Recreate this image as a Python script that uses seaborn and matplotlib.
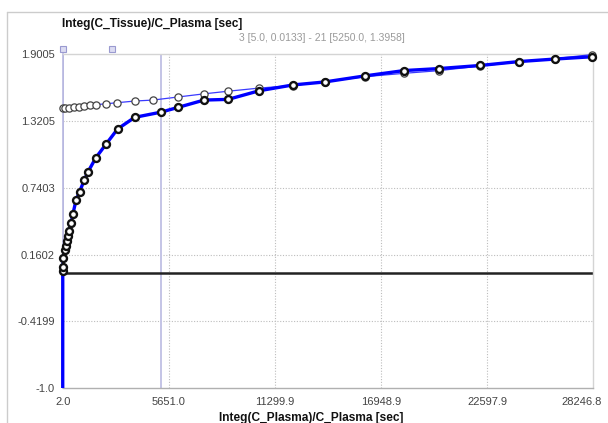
import matplotlib
matplotlib.use("Agg")
import matplotlib.pyplot as plt
from matplotlib.lines import Line2D
from matplotlib.transforms import (Bbox, TransformedBbox, blended_transform_factory,
                                   ScaledTranslation)
import pandas as pd
import seaborn as sns

# Measured samples: Integ(C_Plasma)/C_Plasma vs Integ(C_Tissue)/C_Plasma
measured_x = [2.0, 2.5, 3.0, 5.0, 12, 34, 125, 162, 216, 269, 339, 446, 542, 713, 900,
              1152, 1355, 1767, 2302, 2923, 3832, 5250.0, 6153, 7523, 8807, 10465,
              12252, 13942, 16103, 18178, 20008, 22217, 24287, 26213, 28200]
measured_y = [-3.5, -2.2, -1.3, 0.0133, 0.055, 0.127, 0.199, 0.234, 0.278, 0.321, 0.364,
              0.431, 0.509, 0.633, 0.705, 0.807, 0.879, 1.000, 1.116, 1.249, 1.350, 1.3958,
              1.437, 1.500, 1.506, 1.581, 1.631, 1.657, 1.710, 1.756, 1.773, 1.800, 1.834,
              1.856, 1.876]

# Model curve
model_x = [5, 125, 355, 607, 890, 1158, 1463, 1767, 2318, 2890, 3868, 4810, 6153, 7523,
           8817, 10465, 12252, 13942, 16103, 18178, 20008, 22217, 24287, 26213, 28200]
model_y = [1.428, 1.428, 1.434, 1.437, 1.442, 1.448, 1.454, 1.460, 1.468, 1.477, 1.492,
           1.500, 1.527, 1.554, 1.577, 1.604, 1.626, 1.658, 1.703, 1.732, 1.755, 1.795,
           1.830, 1.860, 1.895]

x_ticks = [2.0, 5651.0, 11299.9, 16948.9, 22597.9, 28246.8]
x_tick_labels = ["2.0", "5651.0", "11299.9", "16948.9", "22597.9", "28246.8"]
y_ticks = [-1.0, -0.4199, 0.1602, 0.7403, 1.3205, 1.9005]
y_tick_labels = ["-1.0", "-0.4199", "0.1602", "0.7403", "1.3205", "1.9005"]

range_start_idx, range_end_idx = 3, 21
handle_x = [5.0, 2640.0]
baseline_y = 0.0

W, H = 608, 423
sns.set_theme(style="white")
plt.rcParams["font.family"] = ["Liberation Sans", "DejaVu Sans"]

fig = plt.figure(figsize=(W / 100, H / 100), dpi=100)
fig.patch.set_facecolor("white")
left, right, top, bottom = 62.7, 593.3, 53.9, 388.3
ax = fig.add_axes([left / W, 1 - bottom / H, (right - left) / W, (bottom - top) / H])
ax.set_facecolor("white")

ax.set_xlim(x_ticks[0], x_ticks[-1])
ax.set_ylim(y_ticks[0], y_ticks[-1])

# grid
for xv in x_ticks[1:-1]:
    ax.axvline(xv, color="#bdbdbd", lw=0.8, ls=(0, (1, 1.5)), zorder=0)
for yv in y_ticks[1:-1]:
    ax.axhline(yv, color="#bdbdbd", lw=0.8, ls=(0, (1, 1.5)), zorder=0)

# fit range markers
ax.axvline(measured_x[range_start_idx], color="#b8b8e0", lw=1.4, zorder=1)
ax.axvline(measured_x[range_end_idx], color="#c4c4e6", lw=1.4, zorder=1)

# baseline
ax.axhline(baseline_y, color="#222222", lw=1.8, zorder=2)

df_meas = pd.DataFrame({"x": measured_x, "y": measured_y})
df_model = pd.DataFrame({"x": model_x, "y": model_y})

sns.lineplot(data=df_model, x="x", y="y", ax=ax, color="#3a3aff", lw=0.9,
             marker="o", markersize=5.2, markerfacecolor="white",
             markeredgecolor="#444444", markeredgewidth=0.9, estimator=None,
             zorder=3)
sns.lineplot(data=df_meas, x="x", y="y", ax=ax, color="#0000ff", lw=2.4,
             marker="o", markersize=5.0, markerfacecolor="white",
             markeredgecolor="#111111", markeredgewidth=1.7, estimator=None,
             zorder=4)

clip = TransformedBbox(Bbox([[-0.03, 0.0], [1.03, 1.02]]), ax.transAxes)
for ln in ax.lines[-2:]:
    ln.set_clip_box(clip)

# range handles above the plot
bt = blended_transform_factory(ax.transData, ax.transAxes)
ax.plot(handle_x, [1.014] * len(handle_x), transform=bt, marker="s", ls="none",
        markersize=4.2, markerfacecolor="#dcdcf2", markeredgecolor="#9a9ad0",
        markeredgewidth=0.8, clip_on=False, zorder=5)

ax.set_xticks(x_ticks)
ax.set_xticklabels(x_tick_labels)
ax.set_yticks(y_ticks)
ax.set_yticklabels(y_tick_labels)
ax.tick_params(axis="both", which="major", length=3, width=0.8, color="#666666",
               labelsize=8, labelcolor="#444444", direction="out", pad=2.5)
ax.tick_params(axis="x", pad=3)
ax.set_xlabel("")
ax.set_ylabel("")

# keep the last x label inside the canvas
last = ax.get_xticklabels()[-1]
last.set_transform(last.get_transform() + ScaledTranslation(-12 / 100, 0, fig.dpi_scale_trans))

for side in ["top", "right"]:
    ax.spines[side].set_color("#d4d4d4")
    ax.spines[side].set_linewidth(1.0)
ax.spines["bottom"].set_color("#b0b0b0")
ax.spines["bottom"].set_linewidth(1.0)
ax.spines["left"].set_color("#b8b8e0")
ax.spines["left"].set_linewidth(1.2)

# titles
fig.text(62 / W, 1 - 24 / H, "Integ(C_Tissue)/C_Plasma [sec]", fontsize=8.6,
         fontweight="bold", color="#111111", ha="left", va="center")
sx, sy = measured_x[range_start_idx], measured_y[range_start_idx]
ex, ey = measured_x[range_end_idx], measured_y[range_end_idx]
fig.text(322 / W, 1 - 38 / H,
         f"{range_start_idx} [{sx:.1f}, {sy:.4f}] - {range_end_idx} [{ex:.1f}, {ey:.4f}]",
         fontsize=7.5, color="#9a9a9a", ha="center", va="center")
fig.text(311 / W, 1 - 417.5 / H, "Integ(C_Plasma)/C_Plasma [sec]", fontsize=8.6,
         fontweight="bold", color="#111111", ha="center", va="center")

# outer panel border
fig.add_artist(Line2D([7 / W, 1.0], [1 - 12 / H, 1 - 12 / H], transform=fig.transFigure,
                      color="#cccccc", lw=1.0))
fig.add_artist(Line2D([7 / W, 7 / W], [0.0, 1 - 12 / H], transform=fig.transFigure,
                      color="#cccccc", lw=1.0))

fig.savefig("out.png", dpi=100, facecolor="white")
